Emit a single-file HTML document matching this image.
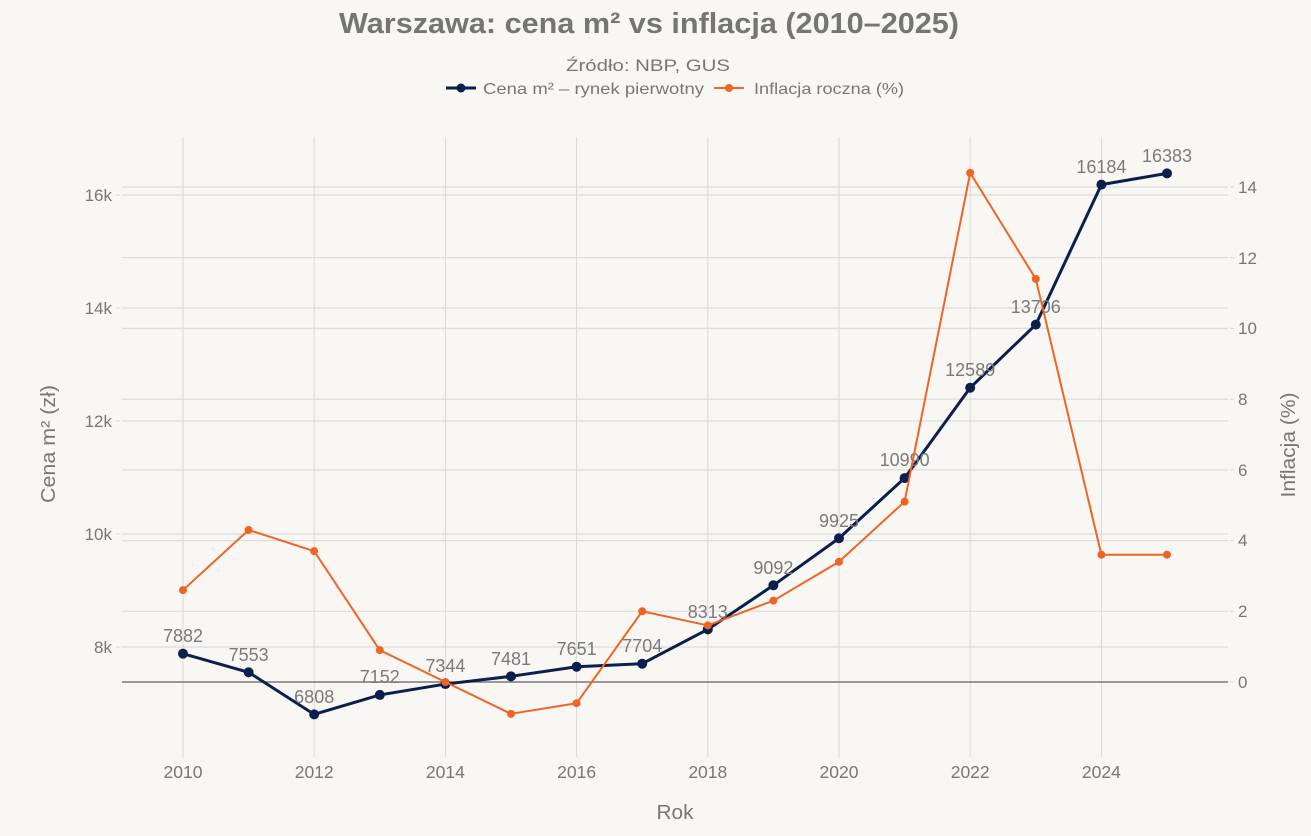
<!DOCTYPE html>
<html><head><meta charset="utf-8"><style>
html,body{margin:0;padding:0;background:#f9f7f4;}
svg{display:block;font-family:"Liberation Sans",Arial,sans-serif;}
</style></head><body>
<svg width="1311" height="836" viewBox="0 0 1311 836" xmlns="http://www.w3.org/2000/svg">
<rect width="1311" height="836" fill="#f9f7f4"/>
<!-- title -->
<text x="649" y="33" text-anchor="middle" font-size="29" font-weight="bold" fill="#757575" textLength="620" lengthAdjust="spacingAndGlyphs">Warszawa: cena m² vs inflacja (2010–2025)</text>
<text x="648" y="71" text-anchor="middle" font-size="17" fill="#777" textLength="164" lengthAdjust="spacingAndGlyphs">Źródło: NBP, GUS</text>
<!-- legend -->
<line x1="446" y1="88" x2="476" y2="88" stroke="#0b1f4e" stroke-width="3"/>
<circle cx="461" cy="88" r="4.5" fill="#0b1f4e"/>
<text x="483" y="94" font-size="16" fill="#777" textLength="221" lengthAdjust="spacingAndGlyphs">Cena m² – rynek pierwotny</text>
<line x1="714" y1="88" x2="744" y2="88" stroke="#f06423" stroke-width="2"/>
<circle cx="729" cy="88" r="4" fill="#f06423"/>
<text x="754" y="94" font-size="16" fill="#777" textLength="150" lengthAdjust="spacingAndGlyphs">Inflacja roczna (%)</text>

<!-- vertical grid -->
<g stroke="#d9d9d6" stroke-width="1">
<line x1="183" y1="137" x2="183" y2="757"/>
<line x1="314.2" y1="137" x2="314.2" y2="757"/>
<line x1="445.4" y1="137" x2="445.4" y2="757"/>
<line x1="576.6" y1="137" x2="576.6" y2="757"/>
<line x1="707.8" y1="137" x2="707.8" y2="757"/>
<line x1="839" y1="137" x2="839" y2="757"/>
<line x1="970.2" y1="137" x2="970.2" y2="757"/>
<line x1="1101.4" y1="137" x2="1101.4" y2="757"/>
</g>
<!-- horizontal grid left -->
<g stroke="#dcdcd9" stroke-width="1.2">
<line x1="122" y1="195" x2="1228" y2="195"/>
<line x1="122" y1="308" x2="1228" y2="308"/>
<line x1="122" y1="421" x2="1228" y2="421"/>
<line x1="122" y1="534" x2="1228" y2="534"/>
<line x1="122" y1="647" x2="1228" y2="647"/>
<line x1="116" y1="195" x2="120" y2="195"/>
<line x1="116" y1="308" x2="120" y2="308"/>
<line x1="116" y1="421" x2="120" y2="421"/>
<line x1="116" y1="534" x2="120" y2="534"/>
<line x1="116" y1="647" x2="120" y2="647"/>
</g>
<!-- horizontal grid right -->
<g stroke="#dcdcd9" stroke-width="1.2">
<line x1="122" y1="187" x2="1228" y2="187"/>
<line x1="122" y1="257.7" x2="1228" y2="257.7"/>
<line x1="122" y1="328.4" x2="1228" y2="328.4"/>
<line x1="122" y1="399.1" x2="1228" y2="399.1"/>
<line x1="122" y1="469.9" x2="1228" y2="469.9"/>
<line x1="122" y1="540.6" x2="1228" y2="540.6"/>
<line x1="122" y1="611.3" x2="1228" y2="611.3"/>
<line x1="1230" y1="187" x2="1234" y2="187"/>
<line x1="1230" y1="257.7" x2="1234" y2="257.7"/>
<line x1="1230" y1="328.4" x2="1234" y2="328.4"/>
<line x1="1230" y1="399.1" x2="1234" y2="399.1"/>
<line x1="1230" y1="469.9" x2="1234" y2="469.9"/>
<line x1="1230" y1="540.6" x2="1234" y2="540.6"/>
<line x1="1230" y1="611.3" x2="1234" y2="611.3"/>
<line x1="1230" y1="682" x2="1234" y2="682"/>
</g>
<!-- zero line -->
<line x1="122" y1="682" x2="1228" y2="682" stroke="#7a7a7a" stroke-width="1.5"/>

<!-- left tick labels -->
<g font-size="17" fill="#777" text-anchor="end">
<text x="112" y="201">16k</text>
<text x="112" y="314">14k</text>
<text x="112" y="427">12k</text>
<text x="112" y="540">10k</text>
<text x="112" y="653">8k</text>
</g>
<!-- right tick labels -->
<g font-size="17" fill="#777" text-anchor="start">
<text x="1238" y="193">14</text>
<text x="1238" y="264">12</text>
<text x="1238" y="334">10</text>
<text x="1238" y="405">8</text>
<text x="1238" y="476">6</text>
<text x="1238" y="546">4</text>
<text x="1238" y="617">2</text>
<text x="1238" y="688">0</text>
</g>
<!-- x tick labels -->
<g font-size="17.5" fill="#777" text-anchor="middle">
<text x="183" y="778">2010</text>
<text x="314.2" y="778">2012</text>
<text x="445.4" y="778">2014</text>
<text x="576.6" y="778">2016</text>
<text x="707.8" y="778">2018</text>
<text x="839" y="778">2020</text>
<text x="970.2" y="778">2022</text>
<text x="1101.4" y="778">2024</text>
</g>
<!-- axis titles -->
<text x="675" y="819" text-anchor="middle" font-size="20" fill="#777" textLength="37" lengthAdjust="spacingAndGlyphs">Rok</text>
<text transform="translate(55,444) rotate(-90)" text-anchor="middle" font-size="20" fill="#777" textLength="118" lengthAdjust="spacingAndGlyphs">Cena m² (zł)</text>
<text transform="translate(1295,445) rotate(-90)" text-anchor="middle" font-size="20" fill="#777" textLength="105" lengthAdjust="spacingAndGlyphs">Inflacja (%)</text>

<!-- price series -->
<polyline fill="none" stroke="#0b1f4e" stroke-width="3" stroke-linejoin="round" points="183,653.67 248.6,672.26 314.2,714.35 379.8,694.91 445.4,684.06 511,676.32 576.6,666.72 642.2,663.72 707.8,629.32 773.4,585.3 839,538.24 904.6,478.07 970.2,387.72 1035.8,324.61 1101.4,184.6 1167,173.36"/>
<g fill="#0b1f4e">
<circle cx="183" cy="653.67" r="5"/><circle cx="248.6" cy="672.26" r="5"/><circle cx="314.2" cy="714.35" r="5"/><circle cx="379.8" cy="694.91" r="5"/><circle cx="445.4" cy="684.06" r="5"/><circle cx="511" cy="676.32" r="5"/><circle cx="576.6" cy="666.72" r="5"/><circle cx="642.2" cy="663.72" r="5"/><circle cx="707.8" cy="629.32" r="5"/><circle cx="773.4" cy="585.3" r="5"/><circle cx="839" cy="538.24" r="5"/><circle cx="904.6" cy="478.07" r="5"/><circle cx="970.2" cy="387.72" r="5"/><circle cx="1035.8" cy="324.61" r="5"/><circle cx="1101.4" cy="184.6" r="5"/><circle cx="1167" cy="173.36" r="5"/>
</g>
<!-- price labels -->
<g font-size="18" fill="#7a7a7a" text-anchor="middle">
<text x="183" y="642">7882</text>
<text x="248.6" y="661">7553</text>
<text x="314.2" y="703">6808</text>
<text x="379.8" y="683">7152</text>
<text x="445.4" y="672">7344</text>
<text x="511" y="665">7481</text>
<text x="576.6" y="655">7651</text>
<text x="642.2" y="652">7704</text>
<text x="707.8" y="618">8313</text>
<text x="773.4" y="574">9092</text>
<text x="839" y="527">9925</text>
<text x="904.6" y="466">10990</text>
<text x="970.2" y="376">12589</text>
<text x="1035.8" y="313">13706</text>
<text x="1101.4" y="173">16184</text>
<text x="1167" y="162">16383</text>
</g>

<!-- inflation series -->
<polyline fill="none" stroke="#f06423" stroke-width="2" stroke-linejoin="round" points="183,590.07 248.6,529.96 314.2,551.18 379.8,650.18 445.4,682 511,713.82 576.6,703.21 642.2,611.29 707.8,625.43 773.4,600.68 839,561.79 904.6,501.68 970.2,172.86 1035.8,278.93 1101.4,554.71 1167,554.71"/>
<g fill="#f06423">
<circle cx="183" cy="590.07" r="4"/><circle cx="248.6" cy="529.96" r="4"/><circle cx="314.2" cy="551.18" r="4"/><circle cx="379.8" cy="650.18" r="4"/><circle cx="445.4" cy="682" r="4"/><circle cx="511" cy="713.82" r="4"/><circle cx="576.6" cy="703.21" r="4"/><circle cx="642.2" cy="611.29" r="4"/><circle cx="707.8" cy="625.43" r="4"/><circle cx="773.4" cy="600.68" r="4"/><circle cx="839" cy="561.79" r="4"/><circle cx="904.6" cy="501.68" r="4"/><circle cx="970.2" cy="172.86" r="4"/><circle cx="1035.8" cy="278.93" r="4"/><circle cx="1101.4" cy="554.71" r="4"/><circle cx="1167" cy="554.71" r="4"/>
</g>
</svg>
</body></html>
